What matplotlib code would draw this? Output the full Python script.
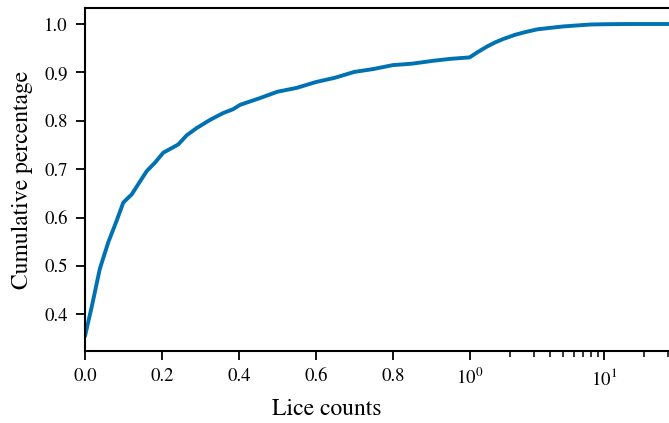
import matplotlib
matplotlib.use("Agg")
import matplotlib.pyplot as plt
from matplotlib.ticker import FixedLocator, FixedFormatter

plt.rcParams['font.family'] = ['STIXGeneral', 'Liberation Serif', 'DejaVu Serif']
plt.rcParams['mathtext.fontset'] = 'stix'

# Кривая распределения
lice = [0.0, 0.017, 0.038, 0.060, 0.082, 0.099, 0.121, 0.138, 0.160, 0.182,
        0.203, 0.242, 0.264, 0.290, 0.325, 0.359, 0.385, 0.403, 0.429, 0.455,
        0.5, 0.55, 0.6, 0.65, 0.7, 0.75, 0.8, 0.85, 0.905, 0.95, 1.0,
        1.15, 1.34, 1.55, 1.78, 2.2, 2.66, 3.2, 3.97, 5.0, 6.28, 8.0,
        10.5, 15.0, 20.0, 30.0, 35.0]
cum = [0.357, 0.416, 0.494, 0.549, 0.594, 0.631, 0.648, 0.669, 0.696, 0.714,
       0.734, 0.751, 0.770, 0.785, 0.802, 0.816, 0.824, 0.833, 0.840, 0.847,
       0.860, 0.868, 0.880, 0.889, 0.901, 0.907, 0.915, 0.918, 0.924, 0.928, 0.931,
       0.942, 0.953, 0.962, 0.969, 0.978, 0.984, 0.989, 0.992, 0.995, 0.997, 0.999,
       0.9996, 1.0, 1.0, 1.0, 1.0]

major_ticks = [0.0, 0.2, 0.4, 0.6, 0.8, 1.0, 10.0]
major_labels = ['0.0', '0.2', '0.4', '0.6', '0.8',
                r'$\mathdefault{10^{0}}$', r'$\mathdefault{10^{1}}$']
minor_ticks = [2, 3, 4, 5, 6, 7, 8, 9, 20, 30]
y_ticks = [0.4, 0.5, 0.6, 0.7, 0.8, 0.9, 1.0]

fig = plt.figure(figsize=(6.69, 4.23), dpi=100)
ax = fig.add_axes([0.1274, 0.171, 1.0114 - 0.1274, 0.809])

ax.plot(lice, cum, color='#0072B2', linewidth=2.8)

ax.set_xscale('symlog', linthresh=1, linscale=2.58)
ax.set_xlim(0, 35)
ax.xaxis.set_major_locator(FixedLocator(major_ticks))
ax.xaxis.set_major_formatter(FixedFormatter(major_labels))
ax.xaxis.set_minor_locator(FixedLocator(minor_ticks))

ax.set_yticks(y_ticks)
ax.set_yticklabels([f'{v:.1f}' for v in y_ticks])

ax.spines['right'].set_visible(False)
for s in ax.spines.values():
    s.set_linewidth(1.5)
ax.tick_params(which='major', length=6.5, width=1.3, labelsize=13.5,
               direction='out', pad=6)
ax.tick_params(which='minor', length=4, width=1.1, direction='out')

ax.set_xlabel('Lice counts', fontsize=17, labelpad=12)
ax.xaxis.set_label_coords(0.409, -0.14)
ax.set_ylabel('Cumulative percentage', fontsize=17, labelpad=8)

fig.savefig('out.png', dpi=100)
